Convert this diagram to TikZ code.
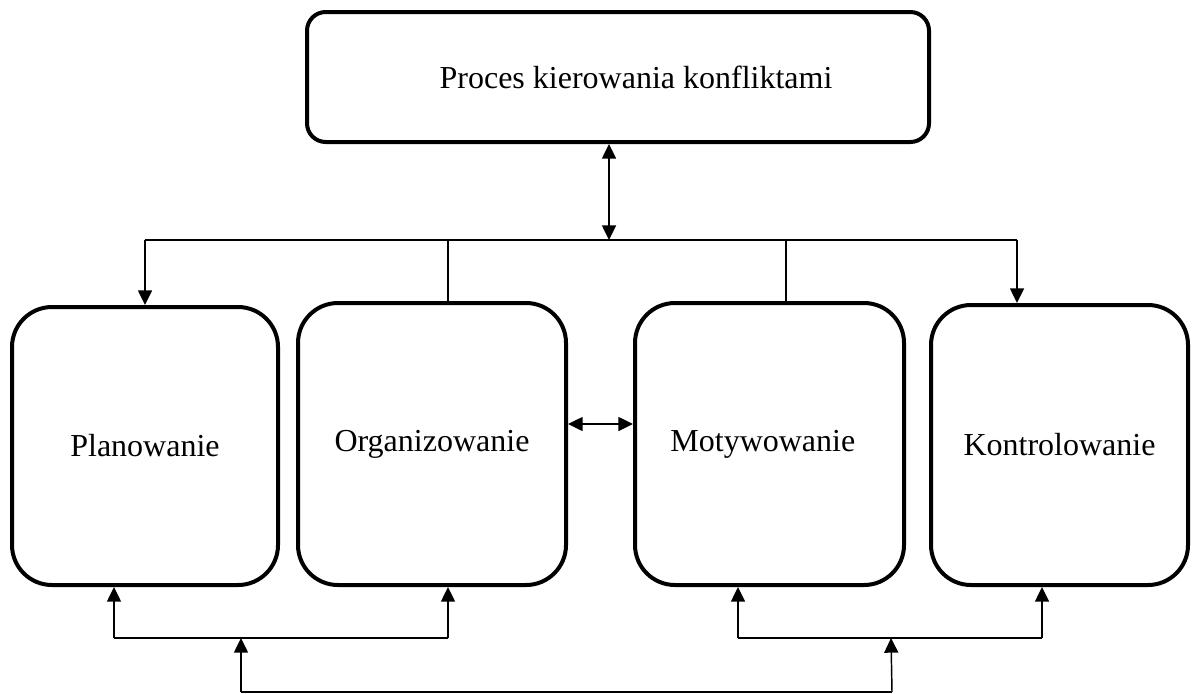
\documentclass[tikz,border=0pt]{standalone}
\usepackage{fontspec}
\setmainfont{Liberation Serif}
\usetikzlibrary{arrows.meta}
\begin{document}
\begin{tikzpicture}[x=0.75pt,y=-0.75pt,
  box/.style={draw=black, line width=3pt, rounded corners=30pt, fill=white,
    font=\fontsize{24}{28}\selectfont, inner sep=0pt},
  topbox/.style={box, rounded corners=14pt},
  conn/.style={draw=black, line width=1.1pt},
  tip/.style={-{Triangle[length=11pt,width=10.5pt]}},
  dtip/.style={{Triangle[length=11pt,width=10.5pt]}-{Triangle[length=11pt,width=10.5pt]}}
]
\useasboundingbox (0,0) rectangle (1201,693);
% boxes
\node[topbox, minimum width=466.5pt, minimum height=97.5pt] (top) at (618,77) {\hspace*{27pt}Proces kierowania konfliktami};
\node[box, minimum width=199.5pt, minimum height=208.5pt] (plan) at (145,446) {Planowanie};
\node[box, minimum width=201pt, minimum height=211.5pt] (org) at (432,444) {Organizowanie};
\node[box, minimum width=201.75pt, minimum height=211.5pt] (mot) at (769.5,444) {\hspace*{-10pt}Motywowanie};
\node[box, minimum width=192.75pt, minimum height=210pt] (kon) at (1059.5,445) {Kontrolowanie};
% top distribution
\coordinate (hub) at (609,240);
\coordinate (hl) at (145,240);
\coordinate (hr) at (1017,240);
\coordinate (ho) at (448,240);
\coordinate (hm) at (786,240);
\draw[conn, dtip] (top.south -| hub) -- (hub);
\draw[conn] (hl) -- (hr);
\draw[conn, tip] (hl) -- (hl |- plan.north);
\draw[conn, tip] (hr) -- (hr |- kon.north);
\draw[conn] (ho) -- (ho |- org.north);
\draw[conn] (hm) -- (hm |- mot.north);
% middle double arrow
\coordinate (mid) at (600,424);
\draw[conn, dtip] (mid -| org.east) -- (mid -| mot.west);
% bottom left group
\coordinate (bl1) at (114,638);
\coordinate (bl2) at (448,638);
\coordinate (bl3) at (241,638);
\draw[conn] (bl1) -- (bl2);
\draw[conn, tip] (bl1) -- (bl1 |- plan.south);
\draw[conn, tip] (bl2) -- (bl2 |- org.south);
% bottom right group
\coordinate (br1) at (738,638);
\coordinate (br2) at (1042,638);
\coordinate (br3) at (891,638);
\draw[conn] (br1) -- (br2);
\draw[conn, tip] (br1) -- (br1 |- mot.south);
\draw[conn, tip] (br2) -- (br2 |- kon.south);
% bottom link
\coordinate (bb1) at (241,692);
\coordinate (bb2) at (892,692);
\draw[conn] (bb1) -- (bb2);
\draw[conn, tip] (bb1) -- (bl3);
\draw[conn, tip] (bb2) -- (br3);
\end{tikzpicture}
\end{document}
